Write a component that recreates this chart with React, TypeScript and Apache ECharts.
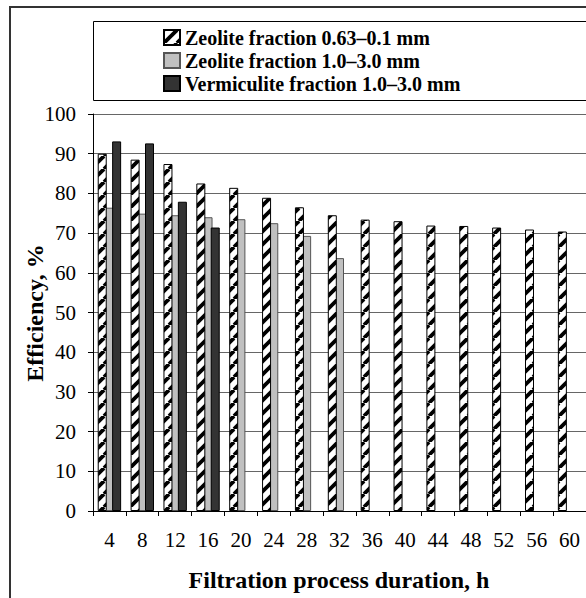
import React, { useEffect, useRef } from "react";
import * as echarts from "echarts";

const categories = ["4", "8", "12", "16", "20", "24", "28", "32", "36", "40", "44", "48", "52", "56", "60"];
const zeoliteFine = [90, 88.5, 87.4, 82.5, 81.4, 78.9, 76.5, 74.5, 73.4, 73.0, 71.9, 71.8, 71.4, 70.9, 70.4];
const zeoliteCoarse = [76.4, 74.9, 74.5, 74.0, 73.5, 72.5, 69.3, 63.7, null, null, null, null, null, null, null];
const vermiculite = [93.1, 92.6, 77.9, 71.4, null, null, null, null, null, null, null, null, null, null, null];
const seriesNames = [
  "Zeolite fraction 0.63–0.1 mm",
  "Zeolite fraction 1.0–3.0 mm",
  "Vermiculite fraction 1.0–3.0 mm",
];

const FONT = "'Liberation Serif', 'Times New Roman', serif";

function makeHatch() {
  const s = 13;
  const c = document.createElement("canvas");
  c.width = s;
  c.height = s;
  const ctx = c.getContext("2d")!;
  ctx.fillStyle = "#ffffff";
  ctx.fillRect(0, 0, s, s);
  ctx.strokeStyle = "#000000";
  ctx.lineWidth = 3.8;
  ctx.lineCap = "butt";
  for (const dx of [-s, 0, s]) {
    ctx.beginPath();
    ctx.moveTo(dx, s);
    ctx.lineTo(dx + s, 0);
    ctx.stroke();
  }
  return { image: c, repeat: "repeat", imageWidth: s, imageHeight: s };
}

export default function App() {
  const ref = useRef<HTMLDivElement>(null);
  useEffect(() => {
    if (!ref.current) return;
    const chart = echarts.init(ref.current, null, { renderer: "svg" });
    const hatch = makeHatch();
    const legendTops = [27.5, 50.5, 73.5];
    chart.setOption({
      animation: false,
      backgroundColor: "#ffffff",
      textStyle: { fontFamily: FONT },
      grid: { left: 93, top: 114, right: -1, bottom: 87, containLabel: false },
      legend: seriesNames.map((n, i) => ({
        orient: "vertical",
        left: 163,
        top: legendTops[i],
        padding: 0,
        itemWidth: 16,
        itemHeight: 15,
        icon: "rect",
        selectedMode: false,
        textStyle: { fontFamily: FONT, fontSize: 20, lineHeight: 20, fontWeight: "bold", color: "#000" },
        data: [n],
      })),
      xAxis: {
        type: "category",
        data: categories,
        boundaryGap: true,
        axisLine: { lineStyle: { color: "#000", width: 1 } },
        axisTick: { show: true, length: 5, inside: false, lineStyle: { color: "#000" } },
        axisLabel: { fontFamily: FONT, fontSize: 21, color: "#000", margin: 18, interval: 0 },
        splitLine: { show: false },
      },
      yAxis: {
        type: "value",
        min: 0,
        max: 100,
        interval: 10,
        axisLine: { show: true, lineStyle: { color: "#000", width: 1 } },
        axisTick: { show: true, length: 5, inside: false, lineStyle: { color: "#000" } },
        axisLabel: { fontFamily: FONT, fontSize: 21, color: "#000", margin: 17 },
        splitLine: { show: true, lineStyle: { color: "#666", width: 1 } },
      },
      graphic: [
        {
          type: "rect",
          shape: { x: 10, y: 7, width: 620, height: 620 },
          style: { fill: "none", stroke: "#333", lineWidth: 2 },
          silent: true,
        },
        {
          type: "rect",
          shape: { x: 93.5, y: 21.5, width: 520, height: 79 },
          style: { fill: "#fff", stroke: "#000", lineWidth: 1 },
          silent: true,
          z: -1,
        },
        {
          type: "text",
          x: 339,
          y: 580,
          style: {
            text: "Filtration process duration, h",
            font: `bold 24px ${FONT}`,
            fill: "#000",
            align: "center",
            verticalAlign: "middle",
          },
        },
        {
          type: "text",
          x: 35,
          y: 313,
          rotation: Math.PI / 2,
          style: {
            text: "Efficiency, %",
            font: `bold 24px ${FONT}`,
            fill: "#000",
            align: "center",
            verticalAlign: "middle",
          },
        },
      ],
      series: [
        {
          name: seriesNames[0],
          type: "bar",
          data: zeoliteFine,
          barWidth: 9,
          barGap: "-20%",
          z: 3,
          itemStyle: { color: hatch, borderColor: "#000", borderWidth: 1 },
        },
        {
          name: seriesNames[1],
          type: "bar",
          data: zeoliteCoarse,
          barWidth: 9,
          barGap: "-20%",
          z: 2,
          itemStyle: { color: "#c0c0c0", borderColor: "#555", borderWidth: 1 },
        },
        {
          name: seriesNames[2],
          type: "bar",
          data: vermiculite,
          barWidth: 9,
          barGap: "-20%",
          z: 3,
          itemStyle: { color: "#333333", borderColor: "#000", borderWidth: 1 },
        },
      ],
    });
    return () => chart.dispose();
  }, []);
  return (
    <div
      ref={ref}
      style={{ position: "fixed", left: 0, top: 0, width: 586, height: 598 }}
    />
  );
}
